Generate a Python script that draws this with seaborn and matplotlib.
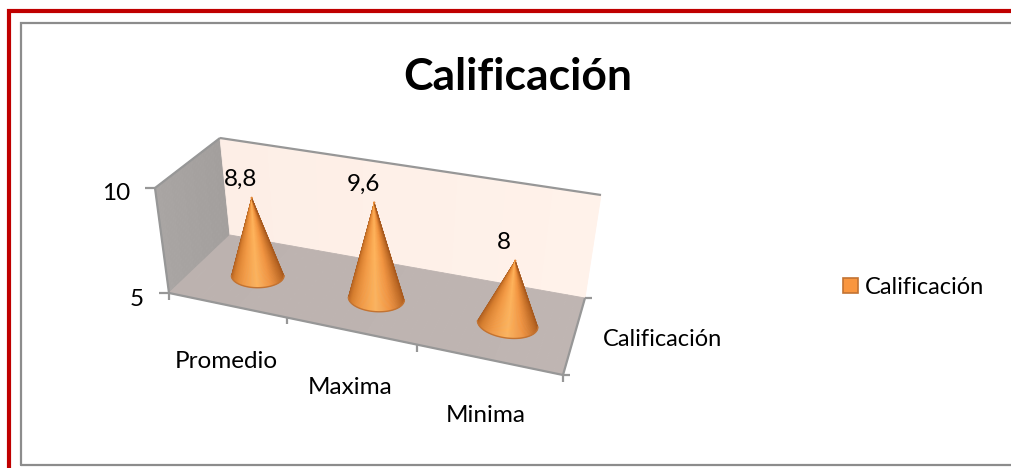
"""
plot.py
Excel-style 3D cone chart, drawn on a flat axes through a small projection.
"""
import matplotlib
matplotlib.use("Agg")
import matplotlib.pyplot as plt
import numpy as np
import pandas as pd
import seaborn as sns
from matplotlib.patches import Patch, Polygon

# -----------------------------------------------------------------
# Data
# -----------------------------------------------------------------
categories = ["Promedio", "Maxima", "Minima"]
values = [8.8, 9.6, 8.0]
value_labels = ["8,8", "9,6", "8"]
series_name = "Calificación"
y_ticks = [5, 10]

Y_MIN, Y_MAX = 5, 10

# screen corners of the plot box: front-left, back-left, back-right, front-right
FLOOR = [(169, 293), (230, 235), (585, 298), (563, 375)]
CEIL = [(155, 188), (220, 138), (601, 195), (582, 268)]


def homography(quad):
    src = [(0, 0), (0, 1), (1, 1), (1, 0)]
    A, b = [], []
    for (u, d), (x, y) in zip(src, quad):
        A.append([u, d, 1, 0, 0, 0, -u * x, -d * x])
        A.append([0, 0, 0, u, d, 1, -u * y, -d * y])
        b += [x, y]
    return np.append(np.linalg.solve(np.array(A, float), np.array(b, float)), 1).reshape(3, 3)


H_FLOOR = homography(FLOOR)
H_CEIL = homography(CEIL)


def project(cat, depth, value):
    """category position (0..n), depth (0..1), value -> screen point"""
    u = cat / len(categories)
    out = []
    for H in (H_FLOOR, H_CEIL):
        p = H @ np.array([u, depth, 1.0])
        out.append(p[:2] / p[2])
    t = (value - Y_MIN) / (Y_MAX - Y_MIN)
    return (1 - t) * out[0] + t * out[1]


sns.set_theme(style="white")
plt.rcParams["font.family"] = ["Lato", "DejaVu Sans"]

fig = plt.figure(figsize=(10.11, 4.68), dpi=100)
ax = fig.add_axes([0, 0, 1, 1])
ax.set_xlim(0, 1011)
ax.set_ylim(468, 0)
ax.axis("off")

# page frame, the right side of the inner one runs off the picture
ax.plot([9, 9, 1011], [468, 11, 11], color="#c00000", lw=3, solid_joinstyle="miter")
ax.plot([21, 21, 1011], [464.5, 23, 23], color="#8c8c8c", lw=1.6, solid_joinstyle="miter")
ax.plot([21, 1011], [464.5, 464.5], color="#8c8c8c", lw=1.6)


# -----------------------------------------------------------------
# Walls, floor and ticks
# -----------------------------------------------------------------
def wall(p0, p1, p2, p3, c0, c1, steps=40):
    # split a quad in strips so the fill can shade from c0 to c1
    pal = sns.blend_palette([c0, c1], steps)
    for i in range(steps):
        a, b = i / steps, (i + 1) / steps
        pts = [p0 + (p1 - p0) * a, p0 + (p1 - p0) * b, p3 + (p2 - p3) * b, p3 + (p2 - p3) * a]
        ax.add_patch(Polygon(pts, closed=True, fc=pal[i], ec=pal[i], lw=0.6, zorder=1))


n = len(categories)
wall(project(0, 0, Y_MIN), project(0, 1, Y_MIN), project(0, 1, Y_MAX), project(0, 0, Y_MAX),
     "#a9a5a3", "#a39f9d")
wall(project(0, 1, Y_MIN), project(n, 1, Y_MIN), project(n, 1, Y_MAX), project(0, 1, Y_MAX),
     "#fdeee6", "#fff2ea")
wall(project(0, 0, Y_MIN), project(n, 0, Y_MIN), project(n, 1, Y_MIN), project(0, 1, Y_MIN),
     "#bcb2af", "#bfb5b2")

edge = dict(color="#979797", lw=1.6, zorder=2, solid_capstyle="butt")
for a, b in [
    ((0, 0, Y_MIN), (n, 0, Y_MIN)),
    ((n, 0, Y_MIN), (n, 1, Y_MIN)),
    ((0, 0, Y_MIN), (0, 0, Y_MAX)),
    ((0, 0, Y_MAX), (0, 1, Y_MAX)),
    ((0, 1, Y_MAX), (n, 1, Y_MAX)),
]:
    pa, pb = project(*a), project(*b)
    ax.plot([pa[0], pb[0]], [pa[1], pb[1]], **edge)

# value axis ticks and labels
for tick in y_ticks:
    p = project(0, 0, tick)
    ax.plot([p[0] - 10, p[0]], [p[1], p[1]], **edge)
    ax.text(p[0] - 25, p[1] + 6, str(tick), ha="right", va="center", fontsize=17.5, color="black")

# category ticks on the front edge
for i in range(n + 1):
    p = project(i, 0, Y_MIN)
    ax.plot([p[0], p[0]], [p[1], p[1] + 7], **edge)

# depth ticks on the right edge
for d in (0, 1):
    p = project(n, d, Y_MIN)
    ax.plot([p[0], p[0] + 7], [p[1], p[1]], **edge)

for cat, lx, ly in zip(categories, [226, 350, 486], [362, 388, 416]):
    ax.text(lx, ly, cat, ha="center", va="center", fontsize=17.5, color="black")
ax.text(663, 340, series_name, ha="center", va="center", fontsize=17, color="black")

# -----------------------------------------------------------------
# Cones
# -----------------------------------------------------------------
cone_pal = sns.blend_palette(
    ["#a85a1e", "#d97f2e", "#f49a44", "#ffb45c", "#f39540", "#c9722a", "#a85a1e"], 90
)

tips = []
for i, (val, lab) in enumerate(zip(values, value_labels)):
    pos = i + 0.53
    radius = 0.215
    base_depth = 0.47
    tip = project(pos + 0.02, base_depth, val)
    tips.append(tip)

    # ring of the base, walked through the category/depth plane
    full = np.array([
        project(pos + radius * np.cos(a), base_depth + 0.85 * radius * np.sin(a), Y_MIN)
        for a in np.linspace(0, 2 * np.pi, 181)
    ])
    left = full[:, 0].argmin()
    right = full[:, 0].argmax()
    # front arc = the part of the ring that is low on screen
    idx = np.arange(len(full) - 1)
    chord = np.interp(full[idx, 0], [full[left, 0], full[right, 0]], [full[left, 1], full[right, 1]])
    front = full[idx[full[idx, 1] >= chord]]
    front = front[np.argsort(front[:, 0])]

    # ribs from the tip to the front arc
    for j in range(90):
        a = front[int(j / 90 * (len(front) - 1))]
        b = front[int((j + 1) / 90 * (len(front) - 1))]
        ax.add_patch(Polygon([tip, a, b], closed=True, fc=cone_pal[j], ec=cone_pal[j], lw=0.3, zorder=3))

    # darker rim along the base
    ax.plot(front[:, 0], front[:, 1], color="#c27332", lw=1, zorder=4)

    ax.annotate(lab, xy=tip, xytext=(-8, 13), textcoords="offset points",
                ha="center", va="center", fontsize=17.5, color="black", zorder=5)

tips = np.array(tips)
df = pd.DataFrame({"x": tips[:, 0], "y": tips[:, 1], "categoria": categories})
sns.scatterplot(data=df, x="x", y="y", ax=ax, s=3, color="#e58a3a", edgecolor="none", legend=False, zorder=4)
ax.set_xlim(0, 1011)
ax.set_ylim(468, 0)
ax.axis("off")

# -----------------------------------------------------------------
# Title and legend
# -----------------------------------------------------------------
ax.text(518, 77, series_name, ha="center", va="center", fontsize=32, fontweight="bold", color="black")

handle = Patch(fc="#f9963f", ec="#c27332", lw=1.2, label=series_name)
ax.legend(handles=[handle], loc="center left", bbox_to_anchor=(822 / 1011, 1 - 287 / 468),
          frameon=False, fontsize=17, handlelength=0.62, handleheight=0.62, handletextpad=0.3, labelcolor="black")

plt.savefig("out.png", dpi=100)
plt.close()
